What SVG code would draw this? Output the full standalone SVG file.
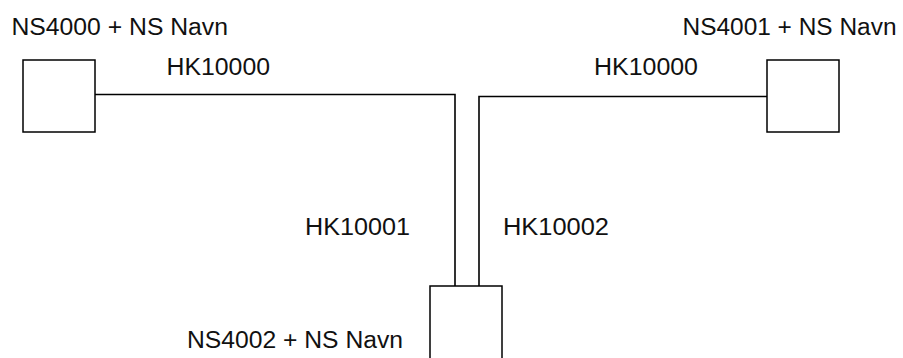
<svg xmlns="http://www.w3.org/2000/svg" width="903" height="358" viewBox="0 0 903 358">
<style>
.box{fill:#fff;stroke:#000;stroke-width:1.5}
.ln{fill:none;stroke:#000;stroke-width:1.6}
text{font-family:"Liberation Sans",Arial,sans-serif;font-size:23.5px;fill:#111}
</style>
<rect width="903" height="358" fill="#fff"/>
<g id="connectors">
<polyline class="ln" points="95,94.5 455,94.5 455,286"/>
<polyline class="ln" points="767,96.5 479,96.5 479,286"/>
<text x="166.5" y="75" textLength="103.5" lengthAdjust="spacingAndGlyphs">HK10000</text>
<text x="594" y="75" textLength="104" lengthAdjust="spacingAndGlyphs">HK10000</text>
<text x="305" y="235" textLength="105" lengthAdjust="spacingAndGlyphs">HK10001</text>
<text x="503" y="235" textLength="106" lengthAdjust="spacingAndGlyphs">HK10002</text>
</g>
<g id="node-ns4000">
<rect class="box" x="23" y="60" width="72" height="72"/>
<text x="11.5" y="34.5" textLength="216.5" lengthAdjust="spacingAndGlyphs">NS4000 + NS Navn</text>
</g>
<g id="node-ns4001">
<rect class="box" x="767" y="60" width="72" height="72"/>
<text x="682.5" y="34.5" textLength="214" lengthAdjust="spacingAndGlyphs">NS4001 + NS Navn</text>
</g>
<g id="node-ns4002">
<rect class="box" x="430" y="286" width="72" height="80"/>
<text x="187" y="348" textLength="216" lengthAdjust="spacingAndGlyphs">NS4002 + NS Navn</text>
</g>
</svg>
